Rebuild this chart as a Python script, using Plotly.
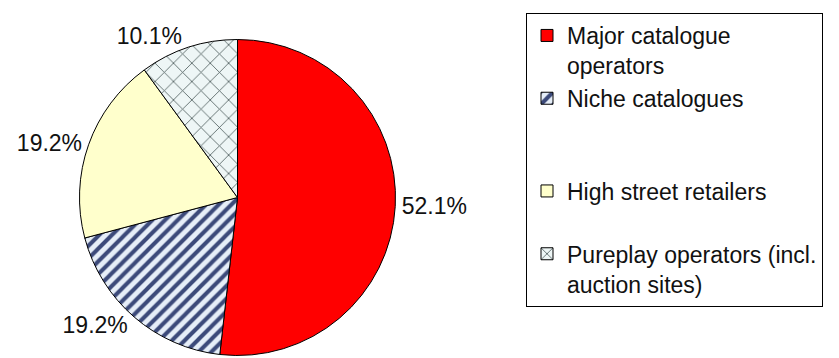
import plotly.graph_objects as go

categories = [
    "Major catalogue<br>operators",
    "Niche catalogues<br> <br> ",
    "High street retailers<br> ",
    "Pureplay operators (incl.<br>auction sites)",
]
shares = [52.1, 19.2, 19.2, 10.1]

slice_colors = ["#FF0000", "#E6EEF8", "#FFFFCC", "#EEF6F6"]
pattern_shapes = ["", "/", "", "x"]
pattern_fg = ["#FF0000", "#3C4A7A", "#FFFFCC", "#4A5A5A"]
pattern_solidity = [0.3, 0.45, 0.3, 0.12]
pattern_size = [8, 9, 8, 13]

# The page body has an 8px default margin, so layout positions are offset by it.
PAGE_OFFSET = 8
W, H = 839, 358
cx, cy, r = 237.5 - PAGE_OFFSET, 197.5 - PAGE_OFFSET, 158

fig = go.Figure(
    go.Pie(
        labels=categories,
        values=shares,
        sort=False,
        direction="clockwise",
        rotation=0,
        texttemplate="%{value:.1f}%",
        textposition="outside",
        textfont=dict(family="Liberation Sans, Arial, sans-serif", size=23, color="#111111"),
        marker=dict(
            colors=slice_colors,
            line=dict(color="#000000", width=1),
            pattern=dict(
                shape=pattern_shapes,
                fgcolor=pattern_fg,
                bgcolor=slice_colors,
                solidity=pattern_solidity,
                size=pattern_size,
            ),
        ),
        domain=dict(
            x=[(cx - r) / W, (cx + r) / W],
            y=[(H - cy - r) / H, (H - cy + r) / H],
        ),
        hoverinfo="label+value",
    )
)

fig.update_layout(
    width=W,
    height=H,
    margin=dict(l=0, r=0, t=0, b=0, autoexpand=False),
    paper_bgcolor="#FFFFFF",
    plot_bgcolor="#FFFFFF",
    font=dict(family="Liberation Sans, Arial, sans-serif", color="#111111"),
    showlegend=True,
    legend=dict(
        x=(526 - PAGE_OFFSET) / W,
        y=1 - (13 - PAGE_OFFSET) / H,
        xanchor="left",
        yanchor="top",
        bordercolor="#000000",
        borderwidth=1,
        bgcolor="#FFFFFF",
        valign="top",
        font=dict(family="Liberation Sans, Arial, sans-serif", size=23, color="#111111"),
    ),
)

fig.write_html("out.html")
